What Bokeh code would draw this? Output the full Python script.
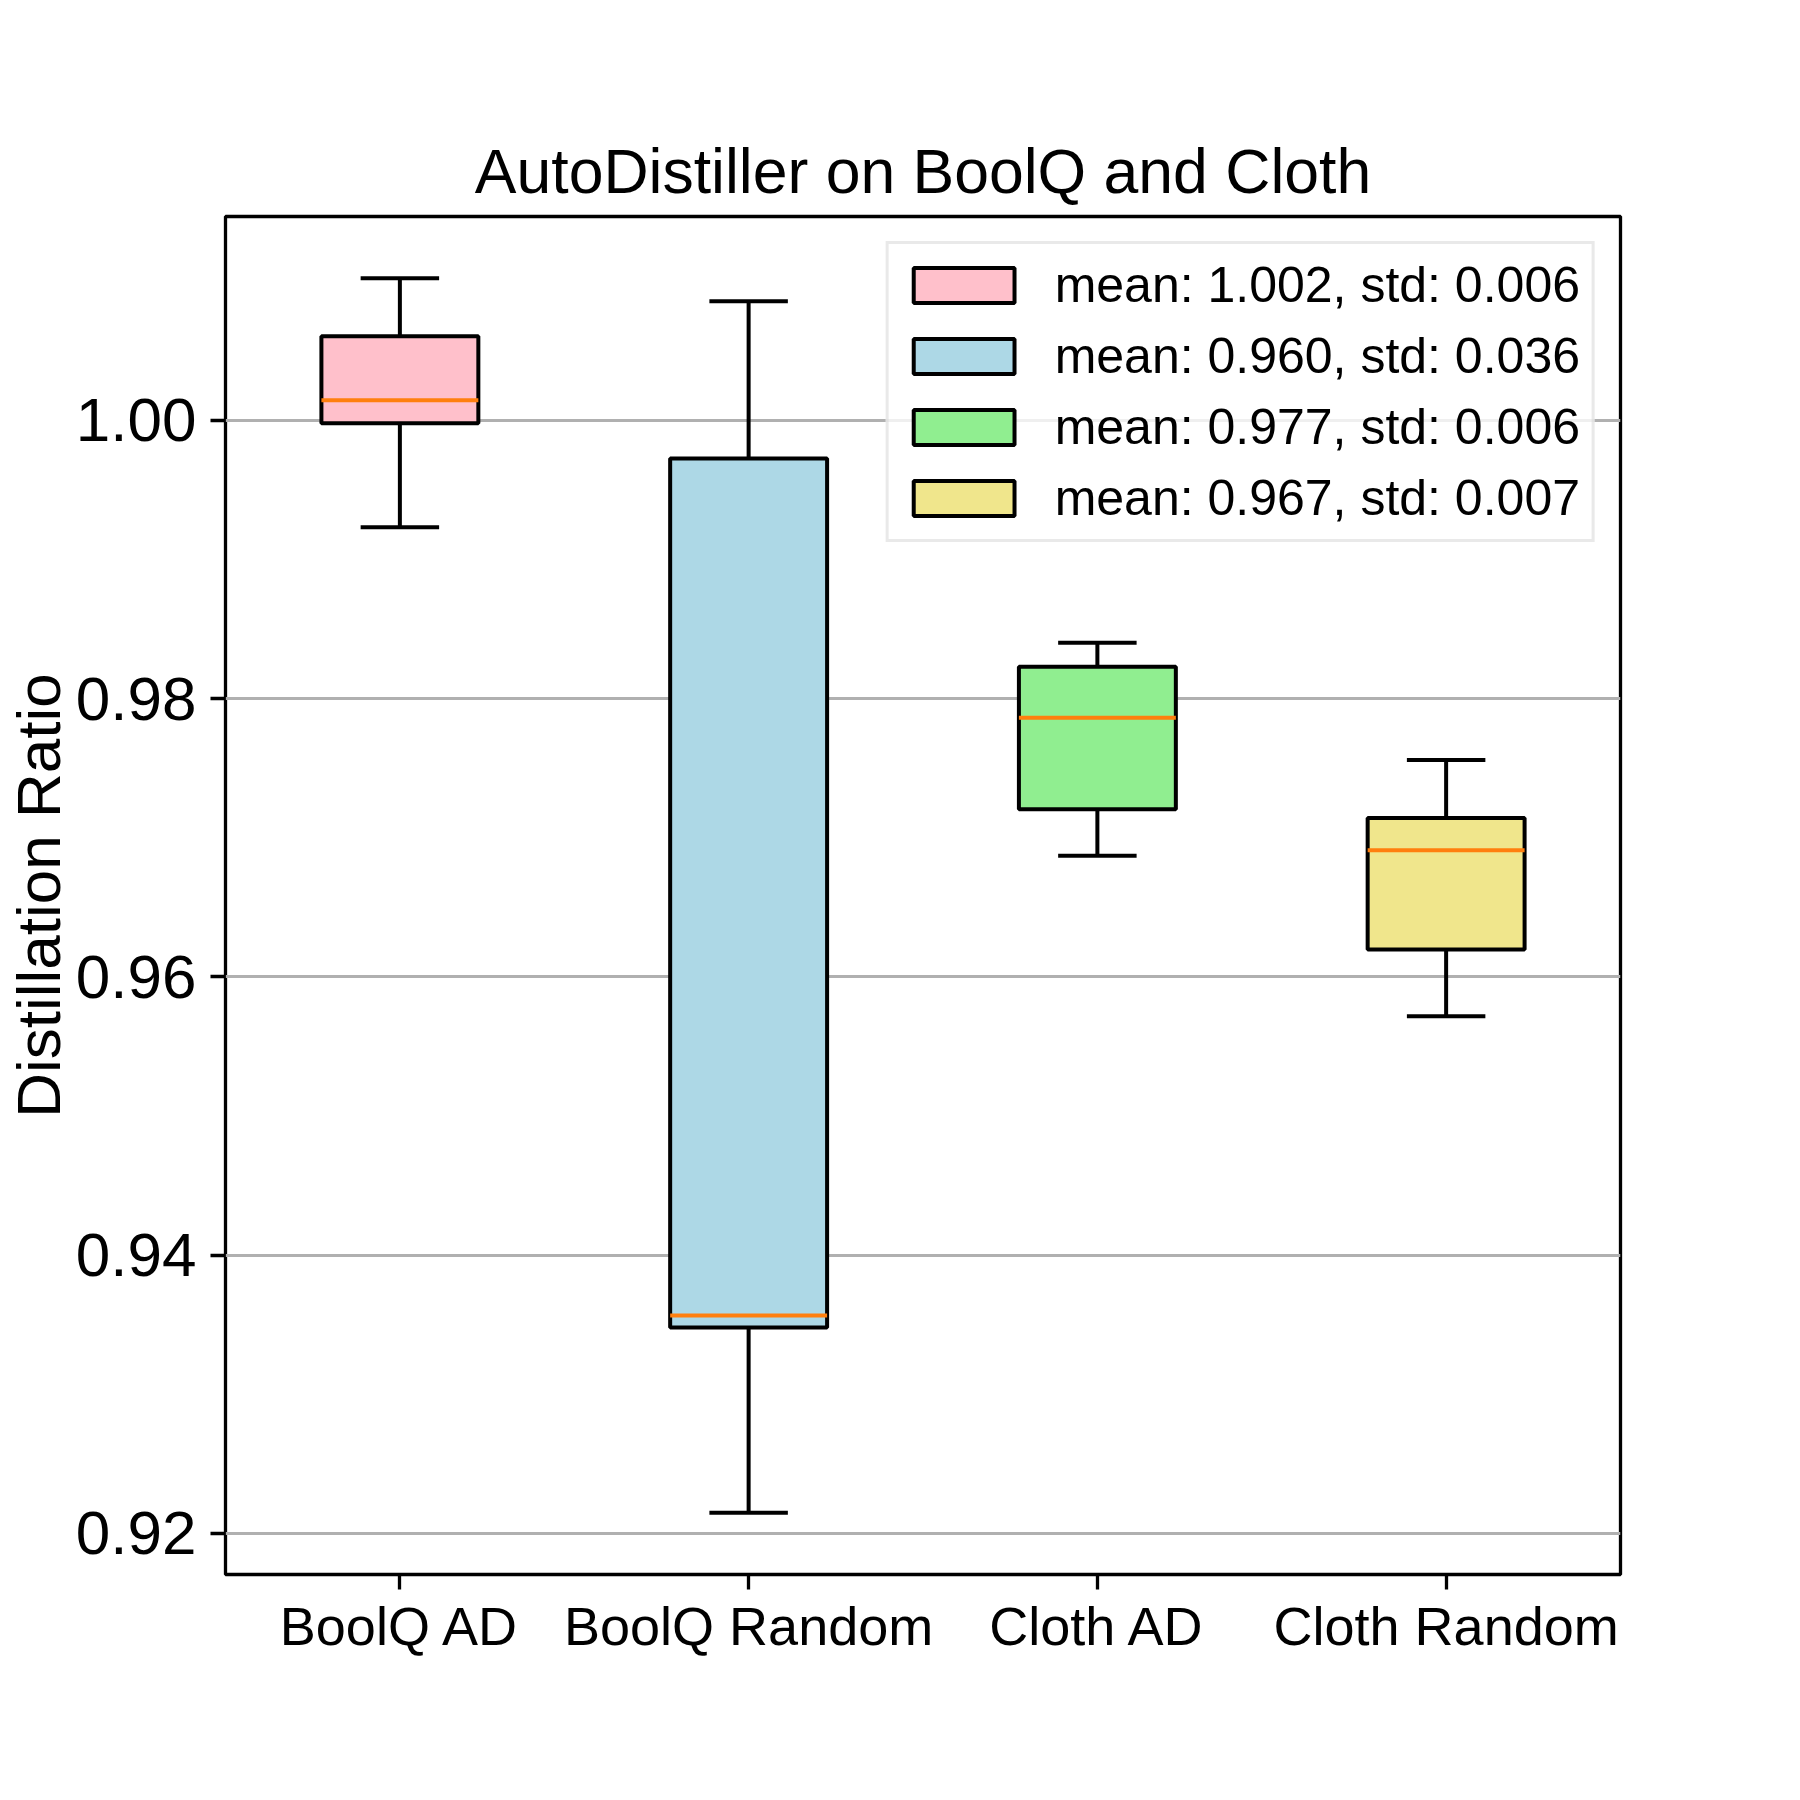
from bokeh.plotting import figure
from bokeh.models import (ColumnDataSource, FixedTicker, Legend, LegendItem,
                          NumeralTickFormatter, Range1d)
from bokeh.transform import dodge
from bokeh.embed import file_html
from bokeh.resources import INLINE

# ---- data ----
categories = ["BoolQ AD", "BoolQ Random", "Cloth AD", "Cloth Random"]
whisker_low = [0.99233, 0.92149, 0.96871, 0.95717]
q1 = [0.99980, 0.93480, 0.97205, 0.96198]
median = [1.00145, 0.93566, 0.97863, 0.96910]
q3 = [1.00605, 0.99726, 0.98229, 0.97142]
whisker_high = [1.01022, 1.00856, 0.98402, 0.97559]
means = [1.002, 0.960, 0.977, 0.967]
stds = [0.006, 0.036, 0.006, 0.007]
box_colors = ["pink", "lightblue", "lightgreen", "khaki"]
y_ticks = [0.92, 0.94, 0.96, 0.98, 1.00]
title_text = "AutoDistiller on BoolQ and Cloth"
y_label = "Distillation Ratio"

FONT = "Liberation Sans"
BOX_W = 0.45
CAP_HALF = BOX_W / 4

src = ColumnDataSource(dict(cat=categories, lo=whisker_low, q1=q1, med=median,
                            q3=q3, hi=whisker_high, color=box_colors))

p = figure(x_range=categories, y_range=Range1d(0.91705, 1.01466),
           frame_width=1395, frame_height=1358,
           min_border_left=225, min_border_right=164,
           min_border_top=216, min_border_bottom=210,
           output_backend="svg", toolbar_location=None, title=title_text)

p.background_fill_color = "white"
p.border_fill_color = "white"
p.outline_line_color = "black"
p.outline_line_width = 3.3

# title
p.title.text_font = FONT
p.title.text_font_size = "62.5px"
p.title.text_font_style = "normal"
p.title.align = "center"
p.title.text_color = "black"
p.title.standoff = 22

# grid
p.xgrid.grid_line_color = None
p.ygrid.grid_line_color = "#b0b0b0"
p.ygrid.grid_line_width = 3
p.ygrid.ticker = FixedTicker(ticks=y_ticks)

# axes
for ax in (p.xaxis[0], p.yaxis[0]):
    ax.axis_line_color = None
    ax.major_tick_out = 15
    ax.major_tick_in = 0
    ax.major_tick_line_width = 3.3
    ax.major_tick_line_color = "black"
    ax.minor_tick_line_color = None
    ax.major_label_text_font = FONT
    ax.major_label_text_color = "black"

p.xaxis.major_label_text_font_size = "54px"
p.xaxis.major_label_standoff = 6

p.yaxis.ticker = FixedTicker(ticks=y_ticks)
p.yaxis.formatter = NumeralTickFormatter(format="0.00")
p.yaxis.major_label_text_font_size = "62px"
p.yaxis.major_label_standoff = 14
p.yaxis.axis_label = y_label
p.yaxis.axis_label_text_font = FONT
p.yaxis.axis_label_text_font_size = "62px"
p.yaxis.axis_label_text_font_style = "normal"
p.yaxis.axis_label_text_color = "black"
p.yaxis.axis_label_standoff = 0

# whiskers
p.segment(x0="cat", x1="cat", y0="q3", y1="hi", source=src,
          line_color="black", line_width=4)
p.segment(x0="cat", x1="cat", y0="q1", y1="lo", source=src,
          line_color="black", line_width=4)
# caps
p.segment(x0=dodge("cat", -CAP_HALF, range=p.x_range),
          x1=dodge("cat", CAP_HALF, range=p.x_range),
          y0="hi", y1="hi", source=src, line_color="black", line_width=4)
p.segment(x0=dodge("cat", -CAP_HALF, range=p.x_range),
          x1=dodge("cat", CAP_HALF, range=p.x_range),
          y0="lo", y1="lo", source=src, line_color="black", line_width=4)
# boxes
boxes = p.vbar(x="cat", width=BOX_W, bottom="q1", top="q3", source=src,
               fill_color="color", line_color="black", line_width=4)
# medians
p.segment(x0=dodge("cat", -BOX_W / 2, range=p.x_range),
          x1=dodge("cat", BOX_W / 2, range=p.x_range),
          y0="med", y1="med", source=src, line_color="#ff7f0e", line_width=4)

items = [LegendItem(label=f"mean: {m:.3f}, std: {s:.3f}", renderers=[boxes], index=i)
         for i, (m, s) in enumerate(zip(means, stds))]
legend = Legend(items=items, location="top_right",
                label_text_font=FONT, label_text_font_size="50px",
                label_text_color="black",
                glyph_width=126, glyph_height=44, label_standoff=28,
                padding=12, spacing=13, margin=25,
                border_line_color="#d4d4d4", border_line_width=3,
                background_fill_color="white", background_fill_alpha=0.8)
p.add_layout(legend)

open("out.html", "w").write(file_html(p, INLINE))
